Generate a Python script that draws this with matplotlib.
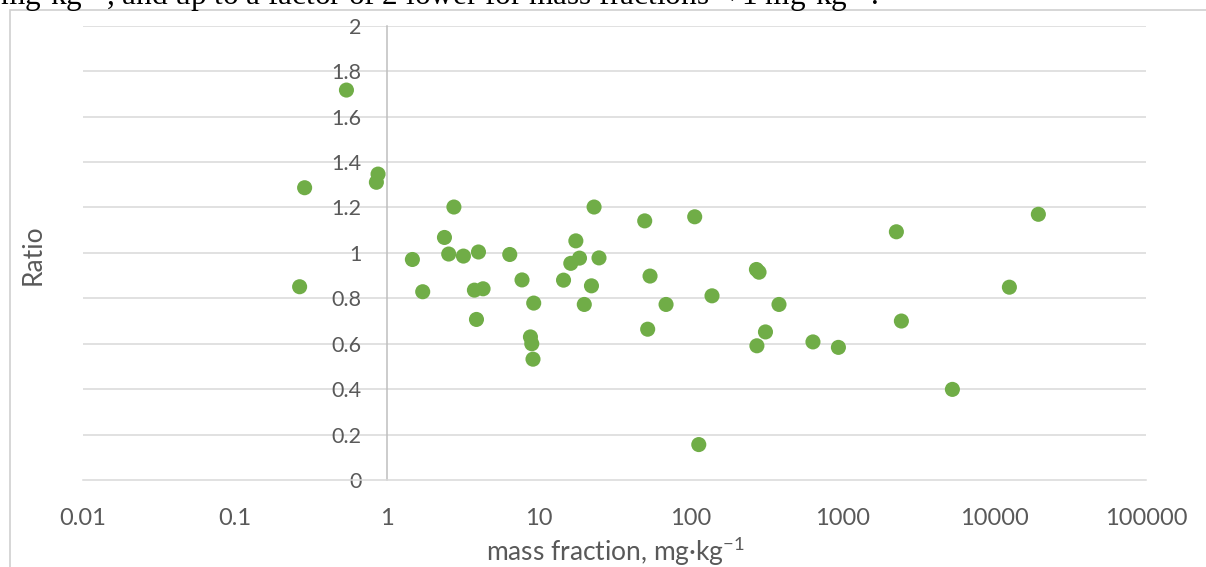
import matplotlib
matplotlib.use("Agg")
import matplotlib.pyplot as plt
from matplotlib.patches import Rectangle
from matplotlib.ticker import FixedLocator, FixedFormatter, NullLocator

# ---- data ----
mass_fraction = [0.267, 0.288, 0.543, 0.877, 0.855, 1.476, 1.726, 2.40, 2.56, 2.77,
                 3.20, 3.78, 4.02, 4.31, 3.90, 6.46, 7.78, 9.29, 8.84, 9.02,
                 9.19, 14.6, 16.3, 17.6, 18.6, 22.3, 20.0, 23.2, 25.0, 50.0,
                 106.7, 54.2, 69.1, 138.7, 52.3, 272, 283, 383, 312, 274,
                 641, 943, 113.5, 2271, 19550, 12600, 2450, 5310]
ratio = [0.851, 1.287, 1.717, 1.347, 1.311, 0.971, 0.829, 1.068, 0.995, 1.202,
         0.986, 0.836, 1.004, 0.842, 0.707, 0.993, 0.881, 0.779, 0.630, 0.600,
         0.532, 0.880, 0.954, 1.053, 0.977, 0.855, 0.773, 1.202, 0.978, 1.141,
         1.159, 0.898, 0.773, 0.811, 0.664, 0.927, 0.915, 0.773, 0.652, 0.591,
         0.608, 0.584, 0.156, 1.093, 1.170, 0.849, 0.700, 0.399]

x_ticks = [0.01, 0.1, 1, 10, 100, 1000, 10000, 100000]
x_tick_labels = ["0.01", "0.1", "1", "10", "100", "1000", "10000", "100000"]
y_ticks = [0, 0.2, 0.4, 0.6, 0.8, 1.0, 1.2, 1.4, 1.6, 1.8, 2.0]
y_tick_labels = ["0", "0.2", "0.4", "0.6", "0.8", "1", "1.2", "1.4", "1.6", "1.8", "2"]

W, H = 1206, 567
fig = plt.figure(figsize=(W / 100, H / 100), dpi=100)
fig.patch.set_facecolor("white")

TXT = "#595959"
GRID = "#d9d9d9"
GREEN = "#70AD47"
FONT = "Lato"

# outer chart frame
fig.add_artist(Rectangle((10 / W, -0.2), 1.2, 1.2 - 10 / H, transform=fig.transFigure,
                         fill=False, edgecolor="#d0d0d0", linewidth=1.2))

# cropped document text above the chart
fig.text(0 / W, 1 - 5.5 / H,
         "mg·kg$^{\\mathregular{-1}}$, and up to a factor of 2 lower for mass fractions < 1 mg·kg$^{\\mathregular{-1}}$.",
         family=["Liberation Serif", "DejaVu Serif"], fontsize=22.5, color="black",
         ha="left", va="baseline")

ax = fig.add_axes([83 / W, (H - 480) / H, (1146 - 83) / W, (480 - 25.8) / H])
ax.set_xscale("log")
ax.set_xlim(0.01, 100000)
ax.set_ylim(0, 2)

ax.scatter(mass_fraction, ratio, s=118, color=GREEN, edgecolors="none", zorder=3, clip_on=False)

# grid
for yv in y_ticks[1:]:
    ax.axhline(yv, color=GRID, linewidth=1.1, zorder=1)

# spines
for s in ["top", "right"]:
    ax.spines[s].set_visible(False)
ax.spines["left"].set_position(("data", 1))
ax.spines["left"].set_color("#bfbfbf")
ax.spines["left"].set_linewidth(1.1)
ax.spines["bottom"].set_color(GRID)
ax.spines["bottom"].set_linewidth(1.1)

ax.xaxis.set_major_locator(FixedLocator(x_ticks))
ax.xaxis.set_major_formatter(FixedFormatter(x_tick_labels))
ax.xaxis.set_minor_locator(NullLocator())
ax.yaxis.set_major_locator(FixedLocator(y_ticks))
ax.yaxis.set_major_formatter(FixedFormatter(y_tick_labels))

ax.tick_params(axis="x", length=0, pad=20, labelsize=17, labelcolor=TXT)
ax.tick_params(axis="y", length=0, pad=18, labelsize=15.5, labelcolor=TXT)
for lab in ax.get_xticklabels() + ax.get_yticklabels():
    lab.set_family(FONT)

fig.text(33 / W, 1 - 255 / H, "Ratio", rotation=90, ha="center", va="center",
         family=FONT, fontsize=19, color=TXT)
fig.text(615 / W, 1 - 551 / H, "mass fraction, mg·kg$^{\\mathregular{-1}}$", ha="center", va="center",
         family=FONT, fontsize=19, color=TXT)

fig.savefig("out.png", dpi=100, facecolor="white")
